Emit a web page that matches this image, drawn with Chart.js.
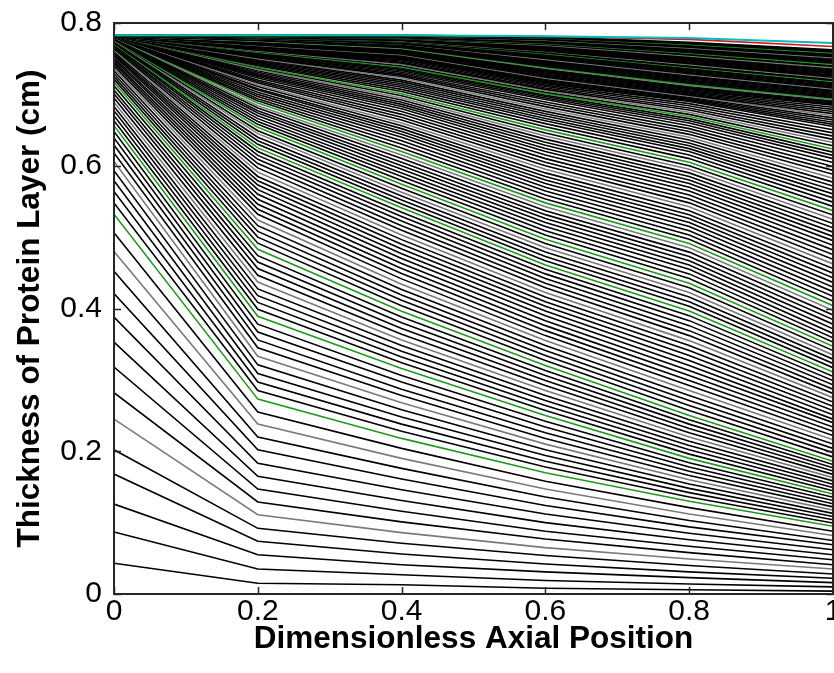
<!DOCTYPE html>
<html>
<head>
<meta charset="utf-8">
<script src="https://cdn.jsdelivr.net/npm/chart.js@4/dist/chart.umd.min.js"></script>
<style>
  html, body { margin: 0; padding: 0; background: #fff; }
  #wrap { width: 834px; height: 673px; }
</style>
</head>
<body>
<div id="wrap"><canvas id="c" width="834" height="673"></canvas></div>
<script>
// Axial stations where the protein-layer thickness is reported
const axialPositions = [0, 0.2, 0.4, 0.6, 0.8, 1];

// Thickness (cm) of every profile at each axial station, earliest profile first
const thicknessAt00 = [
  0.043, 0.087, 0.126, 0.168, 0.202, 0.245, 0.282, 0.318, 0.353, 0.388, 0.421, 0.452, 0.480, 0.506,
  0.532, 0.548, 0.564, 0.579, 0.593, 0.606, 0.618, 0.629, 0.639, 0.648,
  0.656, 0.663, 0.670, 0.677, 0.683, 0.689, 0.695, 0.701, 0.706, 0.712,
  0.717, 0.721, 0.725, 0.729, 0.733, 0.737, 0.740, 0.743, 0.746, 0.749,
  0.751, 0.754, 0.756, 0.758, 0.760, 0.762, 0.764, 0.766, 0.767, 0.769,
  0.770, 0.771, 0.772, 0.773, 0.774, 0.775, 0.776, 0.7765, 0.777, 0.7775,
  0.778, 0.7784, 0.7788, 0.7792, 0.7795, 0.7798, 0.7801, 0.7804, 0.7806, 0.7808,
  0.781, 0.7812, 0.7813, 0.7814, 0.7815, 0.7816, 0.7817, 0.7818, 0.7819, 0.782,
  0.782, 0.782, 0.782, 0.782, 0.782, 0.782, 0.782, 0.782, 0.782, 0.782,
  0.782, 0.782, 0.782, 0.782, 0.782, 0.782, 0.782, 0.782, 0.782, 0.782,
  0.782, 0.782, 0.782, 0.782, 0.782, 0.782, 0.782, 0.782, 0.782, 0.782,
  0.7823, 0.7823, 0.7823, 0.7823, 0.7823, 0.7823, 0.7823, 0.7823, 0.7823, 0.7823,
  0.7823, 0.7823, 0.7823, 0.7823, 0.7823, 0.7823, 0.7823, 0.7823, 0.7823, 0.7823,
  0.7823, 0.7823, 0.7823, 0.7823, 0.7823, 0.7823, 0.7823, 0.7823, 0.7823, 0.7823,
  0.7825, 0.7825, 0.7825, 0.7825, 0.7825, 0.7825, 0.7825, 0.7825, 0.7825, 0.7825,
  0.7825, 0.7825, 0.7825, 0.7825, 0.7825, 0.7825, 0.7825, 0.7825, 0.7825, 0.7825,
  0.7825, 0.7825, 0.7825, 0.7825, 0.7825, 0.7825, 0.7825, 0.7825, 0.7825, 0.7825,
  0.7826, 0.7827, 0.7828, 0.7829, 0.783, 0.783
];
const thicknessAt02 = [
  0.015, 0.035, 0.055, 0.074, 0.092, 0.111, 0.129, 0.147, 0.165, 0.183, 0.202, 0.220, 0.238, 0.255,
  0.273, 0.285, 0.297, 0.309, 0.321, 0.333, 0.345, 0.356, 0.367, 0.378,
  0.389, 0.399, 0.4085, 0.418, 0.4275, 0.437, 0.4465, 0.456, 0.465, 0.474,
  0.483, 0.4915, 0.500, 0.508, 0.516, 0.524, 0.532, 0.539, 0.546, 0.553,
  0.560, 0.5665, 0.573, 0.579, 0.585, 0.591, 0.597, 0.603, 0.609, 0.6145,
  0.620, 0.625, 0.630, 0.635, 0.640, 0.645, 0.649, 0.654, 0.658, 0.662,
  0.666, 0.670, 0.674, 0.677, 0.681, 0.684, 0.688, 0.691, 0.694, 0.697,
  0.700, 0.703, 0.706, 0.708, 0.711, 0.713, 0.716, 0.718, 0.720, 0.723,
  0.725, 0.727, 0.729, 0.731, 0.733, 0.735, 0.737, 0.738, 0.740, 0.7415,
  0.743, 0.7445, 0.746, 0.7475, 0.749, 0.750, 0.7515, 0.7525, 0.754, 0.755,
  0.756, 0.757, 0.758, 0.759, 0.760, 0.761, 0.762, 0.7625, 0.763, 0.764,
  0.765, 0.7657, 0.7665, 0.7672, 0.768, 0.7687, 0.7694, 0.770, 0.7707, 0.7714,
  0.772, 0.7725, 0.773, 0.7735, 0.774, 0.7745, 0.775, 0.7755, 0.776, 0.7765,
  0.777, 0.7772, 0.7774, 0.7776, 0.7778, 0.778, 0.7782, 0.7784, 0.7786, 0.7788,
  0.779, 0.7792, 0.7794, 0.7796, 0.7798, 0.780, 0.7801, 0.7802, 0.7803, 0.7804,
  0.7805, 0.7806, 0.7807, 0.7808, 0.7809, 0.781, 0.7811, 0.7812, 0.7813, 0.7814,
  0.7815, 0.7816, 0.7817, 0.7818, 0.7819, 0.782, 0.782, 0.782, 0.782, 0.782,
  0.782, 0.7822, 0.7824, 0.7826, 0.7828, 0.783
];
const thicknessAt04 = [
  0.013, 0.027, 0.041, 0.056, 0.071, 0.086, 0.101, 0.116, 0.131, 0.146, 0.161, 0.176, 0.190, 0.204,
  0.218, 0.228, 0.238, 0.248, 0.258, 0.268, 0.278, 0.287, 0.297, 0.306,
  0.316, 0.324, 0.332, 0.340, 0.348, 0.356, 0.364, 0.372, 0.380, 0.388,
  0.396, 0.404, 0.4115, 0.419, 0.4265, 0.434, 0.4415, 0.449, 0.456, 0.463,
  0.470, 0.4768, 0.4835, 0.490, 0.4965, 0.503, 0.5095, 0.516, 0.5225, 0.529,
  0.535, 0.541, 0.5465, 0.552, 0.5575, 0.563, 0.5685, 0.574, 0.5795, 0.585,
  0.590, 0.595, 0.600, 0.605, 0.610, 0.615, 0.620, 0.625, 0.630, 0.635,
  0.640, 0.644, 0.648, 0.652, 0.656, 0.660, 0.664, 0.668, 0.672, 0.676,
  0.680, 0.683, 0.686, 0.689, 0.692, 0.695, 0.698, 0.701, 0.704, 0.707,
  0.710, 0.7125, 0.715, 0.7175, 0.720, 0.7225, 0.725, 0.727, 0.729, 0.731,
  0.733, 0.735, 0.737, 0.7385, 0.740, 0.7418, 0.7435, 0.745, 0.7467, 0.7484,
  0.750, 0.7511, 0.7522, 0.7533, 0.7544, 0.7555, 0.7566, 0.7577, 0.7588, 0.7599,
  0.761, 0.7617, 0.7624, 0.7631, 0.7638, 0.7645, 0.7652, 0.7659, 0.7666, 0.7673,
  0.768, 0.7685, 0.769, 0.7695, 0.770, 0.7705, 0.771, 0.7715, 0.772, 0.7725,
  0.773, 0.7734, 0.7738, 0.7742, 0.7746, 0.775, 0.7754, 0.7758, 0.7762, 0.7766,
  0.777, 0.7773, 0.7776, 0.7779, 0.7782, 0.7785, 0.7788, 0.7791, 0.7794, 0.7797,
  0.780, 0.7802, 0.7804, 0.7806, 0.7808, 0.781, 0.7812, 0.7814, 0.7816, 0.7818,
  0.782, 0.7822, 0.7824, 0.7826, 0.7828, 0.783
];
const thicknessAt06 = [
  0.008, 0.019, 0.031, 0.042, 0.054, 0.065, 0.077, 0.088, 0.100, 0.112, 0.124, 0.136, 0.147, 0.158,
  0.170, 0.178, 0.186, 0.194, 0.202, 0.210, 0.218, 0.226, 0.234, 0.242,
  0.250, 0.257, 0.264, 0.271, 0.278, 0.285, 0.292, 0.299, 0.306, 0.313,
  0.320, 0.327, 0.334, 0.341, 0.348, 0.355, 0.362, 0.369, 0.376, 0.383,
  0.390, 0.3965, 0.403, 0.4095, 0.416, 0.4225, 0.429, 0.4355, 0.442, 0.4485,
  0.455, 0.461, 0.467, 0.473, 0.479, 0.485, 0.491, 0.497, 0.503, 0.509,
  0.515, 0.5205, 0.526, 0.5315, 0.537, 0.5425, 0.548, 0.5535, 0.559, 0.5645,
  0.570, 0.575, 0.580, 0.585, 0.590, 0.595, 0.600, 0.605, 0.610, 0.615,
  0.620, 0.6243, 0.6286, 0.633, 0.6373, 0.6416, 0.646, 0.6503, 0.6546, 0.659,
  0.663, 0.6663, 0.6696, 0.6729, 0.6762, 0.6795, 0.6828, 0.6861, 0.6894, 0.6927,
  0.695, 0.697, 0.699, 0.701, 0.703, 0.705, 0.707, 0.709, 0.711, 0.713,
  0.715, 0.7165, 0.718, 0.7195, 0.721, 0.7225, 0.724, 0.7255, 0.727, 0.7285,
  0.730, 0.7313, 0.7326, 0.7339, 0.7352, 0.7365, 0.7378, 0.7391, 0.7404, 0.7417,
  0.743, 0.7442, 0.7454, 0.7466, 0.7478, 0.749, 0.7502, 0.7514, 0.7526, 0.7538,
  0.755, 0.756, 0.757, 0.758, 0.759, 0.760, 0.761, 0.762, 0.763, 0.764,
  0.765, 0.7658, 0.7666, 0.7674, 0.7682, 0.769, 0.7698, 0.7706, 0.7714, 0.7722,
  0.773, 0.7736, 0.7742, 0.7748, 0.7754, 0.776, 0.7766, 0.7772, 0.7778, 0.7784,
  0.779, 0.7795, 0.780, 0.7805, 0.781, 0.7815
];
const thicknessAt08 = [
  0.006, 0.014, 0.023, 0.031, 0.040, 0.049, 0.058, 0.067, 0.076, 0.085, 0.094, 0.103, 0.112, 0.121,
  0.130, 0.136, 0.142, 0.148, 0.154, 0.160, 0.166, 0.172, 0.178, 0.184,
  0.190, 0.196, 0.202, 0.208, 0.214, 0.220, 0.226, 0.232, 0.238, 0.244,
  0.250, 0.257, 0.264, 0.271, 0.278, 0.285, 0.292, 0.299, 0.306, 0.313,
  0.320, 0.327, 0.334, 0.341, 0.348, 0.355, 0.362, 0.369, 0.376, 0.383,
  0.390, 0.3965, 0.403, 0.4095, 0.416, 0.4225, 0.429, 0.4355, 0.442, 0.4485,
  0.455, 0.461, 0.467, 0.473, 0.479, 0.485, 0.491, 0.497, 0.503, 0.509,
  0.515, 0.5205, 0.526, 0.5315, 0.537, 0.5425, 0.548, 0.5535, 0.559, 0.5645,
  0.570, 0.575, 0.580, 0.585, 0.590, 0.595, 0.600, 0.605, 0.610, 0.615,
  0.620, 0.624, 0.628, 0.632, 0.636, 0.640, 0.644, 0.648, 0.652, 0.656,
  0.660, 0.663, 0.666, 0.669, 0.672, 0.675, 0.678, 0.681, 0.684, 0.687,
  0.690, 0.6915, 0.693, 0.6945, 0.696, 0.6975, 0.699, 0.7005, 0.702, 0.7035,
  0.705, 0.7065, 0.708, 0.7095, 0.711, 0.7125, 0.714, 0.7155, 0.717, 0.7185,
  0.720, 0.7215, 0.723, 0.7245, 0.726, 0.7275, 0.729, 0.7305, 0.732, 0.7335,
  0.735, 0.7363, 0.7376, 0.7389, 0.7402, 0.7415, 0.7428, 0.7441, 0.7454, 0.7467,
  0.748, 0.7492, 0.7504, 0.7516, 0.7528, 0.754, 0.7552, 0.7564, 0.7576, 0.7588,
  0.760, 0.761, 0.762, 0.763, 0.764, 0.765, 0.766, 0.767, 0.768, 0.769,
  0.770, 0.771, 0.772, 0.773, 0.777, 0.779
];
const thicknessAt10 = [
  0.004, 0.010, 0.016, 0.022, 0.028, 0.035, 0.041, 0.048, 0.055, 0.062, 0.069, 0.075, 0.082, 0.088,
  0.095, 0.0995, 0.104, 0.1085, 0.113, 0.1175, 0.122, 0.1265, 0.131, 0.1355,
  0.140, 0.1446, 0.1492, 0.1538, 0.1584, 0.163, 0.1676, 0.1722, 0.1768, 0.1814,
  0.186, 0.192, 0.198, 0.204, 0.210, 0.216, 0.222, 0.228, 0.234, 0.240,
  0.245, 0.251, 0.257, 0.263, 0.269, 0.275, 0.281, 0.287, 0.293, 0.299,
  0.305, 0.311, 0.317, 0.323, 0.329, 0.335, 0.341, 0.347, 0.353, 0.359,
  0.365, 0.3715, 0.378, 0.3845, 0.391, 0.3975, 0.404, 0.4105, 0.417, 0.4235,
  0.430, 0.4365, 0.443, 0.4495, 0.456, 0.4625, 0.469, 0.4755, 0.482, 0.4885,
  0.495, 0.501, 0.507, 0.513, 0.519, 0.525, 0.531, 0.537, 0.543, 0.549,
  0.555, 0.5605, 0.566, 0.5715, 0.577, 0.5825, 0.588, 0.5935, 0.599, 0.6045,
  0.610, 0.6145, 0.619, 0.6235, 0.628, 0.6325, 0.637, 0.6415, 0.646, 0.6505,
  0.655, 0.658, 0.661, 0.664, 0.667, 0.670, 0.673, 0.676, 0.679, 0.682,
  0.685, 0.6865, 0.688, 0.6895, 0.691, 0.6925, 0.694, 0.6955, 0.697, 0.6985,
  0.700, 0.7015, 0.703, 0.7045, 0.706, 0.7075, 0.709, 0.7105, 0.712, 0.7135,
  0.715, 0.7165, 0.718, 0.7195, 0.721, 0.7225, 0.724, 0.7255, 0.727, 0.7285,
  0.730, 0.7315, 0.733, 0.7345, 0.736, 0.7375, 0.739, 0.7405, 0.742, 0.7435,
  0.745, 0.7463, 0.7476, 0.7489, 0.7502, 0.7515, 0.7528, 0.7541, 0.7554, 0.7567,
  0.758, 0.7595, 0.761, 0.7625, 0.767, 0.772
];

// Profiles drawn in colour instead of black
const greenProfiles = [14, 24, 34, 55, 61, 70, 91, 107, 130, 146, 162, 174];
const grayProfiles = [5, 12, 19, 29, 39, 49, 59, 69, 79, 89, 99, 109, 119, 129, 139, 149, 159, 169];
const redProfile = 178;
const cyanProfile = 179;

// Axis ticks
const xTickValues = [0, 0.2, 0.4, 0.6, 0.8, 1];
const xTickLabels = ['0', '0.2', '0.4', '0.6', '0.8', '1'];
const yTickValues = [0, 0.2, 0.4, 0.6, 0.8];
const yTickLabels = ['0', '0.2', '0.4', '0.6', '0.8'];

const FONT = "'Liberation Sans', Arial, sans-serif";

const stations = [thicknessAt00, thicknessAt02, thicknessAt04, thicknessAt06, thicknessAt08, thicknessAt10];
const profileCount = thicknessAt00.length;

function profileColour(k) {
  if (k === cyanProfile) return '#00bdbd';
  if (k === redProfile) return '#d01818';
  if (greenProfiles.includes(k)) return '#1f9a1f';
  if (grayProfiles.includes(k)) return '#7a7a7a';
  return '#000000';
}

const datasets = [];
for (let k = 0; k < profileCount; k++) {
  datasets.push({
    data: axialPositions.map((x, j) => ({ x: x, y: stations[j][k] })),
    borderColor: profileColour(k),
    borderWidth: k === cyanProfile ? 2 : 1.6,
    pointRadius: 0,
    fill: false,
    tension: 0,
    order: profileCount - k   // later profiles are painted over earlier ones
  });
}

// Box around the axes with inward-pointing tick marks on all four sides
const boxedAxes = {
  id: 'boxedAxes',
  afterDatasetsDraw(chart) {
    const { ctx, chartArea: a, scales } = chart;
    const L = 7;
    ctx.save();
    ctx.strokeStyle = '#262626';
    ctx.lineWidth = 2;
    ctx.strokeRect(a.left, a.top, a.right - a.left, a.bottom - a.top);
    ctx.lineWidth = 1.5;
    ctx.beginPath();
    scales.x.ticks.forEach(t => {
      const px = Math.round(scales.x.getPixelForValue(t.value)) + 0.5;
      ctx.moveTo(px, a.bottom); ctx.lineTo(px, a.bottom - L);
      ctx.moveTo(px, a.top); ctx.lineTo(px, a.top + L);
    });
    scales.y.ticks.forEach(t => {
      const py = Math.round(scales.y.getPixelForValue(t.value)) + 0.5;
      ctx.moveTo(a.left, py); ctx.lineTo(a.left + L, py);
      ctx.moveTo(a.right, py); ctx.lineTo(a.right - L, py);
    });
    ctx.stroke();
    ctx.restore();
  }
};

new Chart(document.getElementById('c'), {
  type: 'line',
  data: { datasets: datasets },
  plugins: [boxedAxes],
  options: {
    responsive: false,
    animation: false,
    devicePixelRatio: 1,
    events: [],
    layout: { padding: { top: 23, right: 1, bottom: 0, left: 0 } },
    plugins: { legend: { display: false }, tooltip: { enabled: false } },
    scales: {
      x: {
        type: 'linear', min: 0, max: 1,
        grid: { display: false, drawTicks: false },
        border: { display: false },
        afterBuildTicks: s => { s.ticks = xTickValues.map(v => ({ value: v })); },
        afterFit: s => { s.height = 79; s.paddingLeft = 0; s.paddingRight = 0; },
        ticks: {
          autoSkip: false, maxRotation: 0, padding: 0, color: '#000',
          font: { family: FONT, size: 30 },
          callback: (v, i) => xTickLabels[i]
        },
        title: {
          display: true, text: 'Dimensionless Axial Position', color: '#000',
          font: { family: FONT, size: 31.5, weight: 'bold' },
          padding: { top: 0, bottom: 15 }
        }
      },
      y: {
        type: 'linear', min: 0, max: 0.8,
        grid: { display: false, drawTicks: false },
        border: { display: false },
        afterBuildTicks: s => { s.ticks = yTickValues.map(v => ({ value: v })); },
        afterFit: s => { s.width = 114; s.paddingTop = 0; s.paddingBottom = 0; },
        ticks: {
          autoSkip: false, padding: 12, color: '#000',
          font: { family: FONT, size: 30 },
          callback: (v, i) => yTickLabels[i]
        },
        title: {
          display: true, text: 'Thickness of Protein Layer (cm)', color: '#000',
          font: { family: FONT, size: 31.5, weight: 'bold' },
          padding: { top: 11, bottom: 0 }
        }
      }
    }
  }
});
</script>
</body>
</html>
